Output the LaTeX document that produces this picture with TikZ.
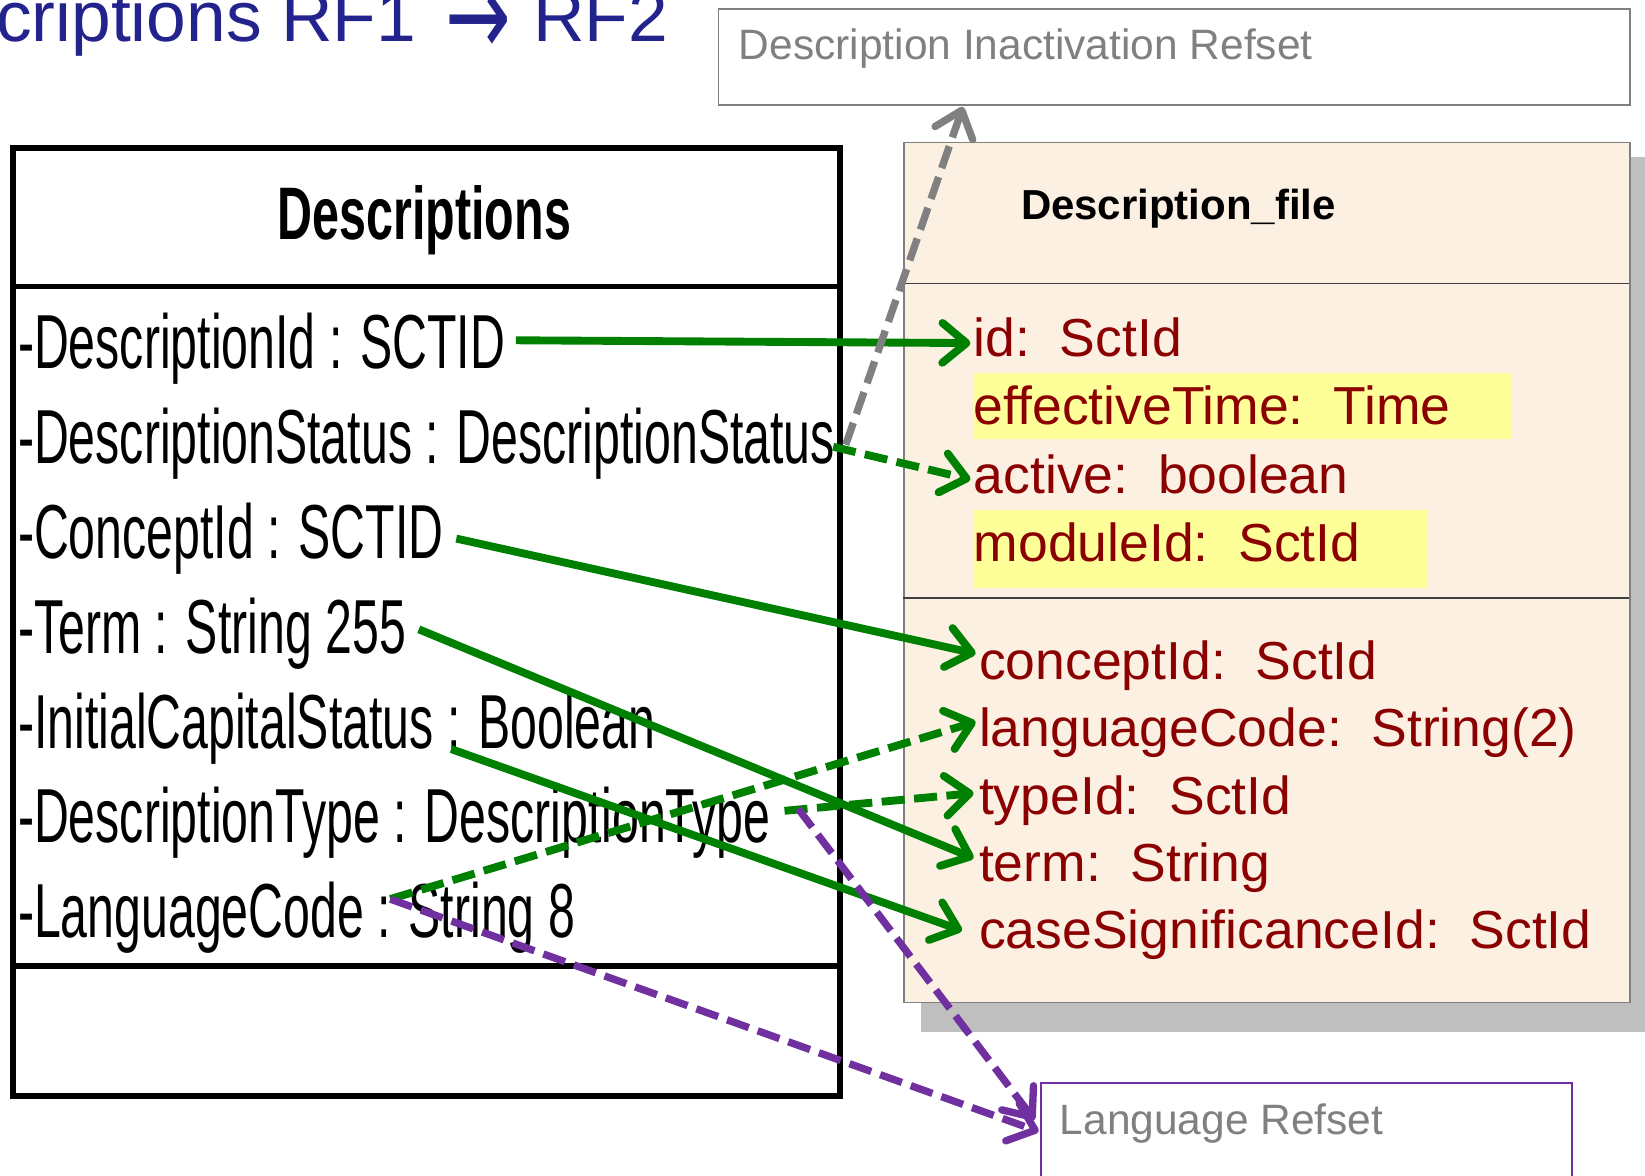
\documentclass[tikz,border=0pt]{standalone}
\usepackage{fontspec}
\setmainfont{Liberation Sans}
\newfontfamily\narrowfont[FakeStretch=0.63]{Liberation Sans}
\newfontfamily\narrowboldfont[FakeStretch=0.65]{Liberation Sans}
\newfontfamily\dejavu{DejaVu Sans}
\usetikzlibrary{arrows.meta}
\definecolor{navy}{RGB}{35,35,142}
\definecolor{umlgreen}{RGB}{0,128,0}
\definecolor{umlgray}{RGB}{128,128,128}
\definecolor{umlpurple}{RGB}{112,48,160}
\definecolor{darkred}{RGB}{139,0,0}
\definecolor{beige}{RGB}{251,240,226}
\definecolor{hl}{RGB}{255,255,153}
\definecolor{shadowgray}{RGB}{191,191,191}
\tikzset{
  attr/.style={font=\narrowfont\fontsize{73}{80}\selectfont, anchor=base west, inner sep=0pt, text height=52.6pt, text depth=15.3pt},
  fattr/.style={font=\fontsize{51}{56}\selectfont, text=darkred, anchor=base west, inner sep=0pt, text height=36.7pt, text depth=10.7pt},
  reftxt/.style={font=\fontsize{40.5}{44}\selectfont, text=umlgray, anchor=base west, inner sep=0pt},
  link/.style={line width=7.5pt, umlgreen, -{Straight Barb[length=23pt,width=38pt,round]}},
  dlink/.style={link, dash pattern=on 22pt off 9pt},
  plink/.style={dlink, umlpurple, line width=7pt},
  glink/.style={dlink, umlgray, line width=7pt},
  classline/.style={line width=5.5pt},
}
\begin{document}
\begin{tikzpicture}[x=1pt,y=-1pt]
\useasboundingbox (0,0) rectangle (1568,1120);

% title
\node[anchor=base east, text=navy, font=\fontsize{68}{74}\selectfont, inner sep=0pt] (title) at (637,40)
  {criptions RF1\hspace{9pt} {\dejavu\raisebox{-13pt}{\scalebox{1.1}[1.6]{→}}}\hspace{2pt} RF2};

% Descriptions class box
\node[draw, classline, minimum width=788pt, minimum height=904pt, anchor=north west, inner sep=0pt] (desc) at (10,138) {};
\draw[classline] (10,273) -- (798,273);
\draw[classline] (10,921) -- (798,921);
\node[anchor=base, font=\narrowboldfont\bfseries\fontsize{71}{78}\selectfont, inner sep=0pt] (dhead) at (404.5,228) {Descriptions};
\node[attr] (r1) at (17,351) {-DescriptionId : SCTID};
\node[attr] (r2) at (17,441.5) {-DescriptionStatus : DescriptionStatus};
\node[attr] (r3) at (17,532) {-ConceptId : SCTID};
\node[attr] (r4) at (17,622.5) {-Term : String 255};
\node[attr] (r5) at (17,713) {-InitialCapitalStatus : Boolean};
\node[attr] (r6) at (17,803.5) {-DescriptionType : DescriptionType};
\node[attr] (r7) at (17,894) {-LanguageCode : String 8};

% Description_file box
\fill[shadowgray] (878,150) rectangle (1570,984);
\node[draw=umlgray, fill=beige, line width=1.5pt, minimum width=692pt, minimum height=820pt, anchor=north west, inner sep=0pt] (file) at (861,135) {};
\draw[line width=1.2pt, black!75] (861,270) -- (1553,270);
\draw[line width=1.2pt, black!75] (861,570) -- (1553,570);
\fill[hl] (927,356) rectangle (1441,418);
\fill[hl] (927,486) rectangle (1361,560);
\node[anchor=base west, font=\bfseries\fontsize{40}{44}\selectfont, inner sep=0pt] (fhead) at (973,209) {Description\_file};
\node[fattr] (fid) at (928,340) {id:~~SctId};
\node[fattr] (ftime) at (928,405) {effectiveTime:~~Time};
\node[fattr] (factive) at (928,470) {active:~~boolean};
\node[fattr] (fmodule) at (928,535) {moduleId:~~SctId};
\node[fattr] (fconcept) at (933,648) {conceptId:~~SctId};
\node[fattr] (flang) at (933,712) {languageCode:~~String(2)};
\node[fattr] (ftype) at (933,776) {typeId:~~SctId};
\node[fattr] (fterm) at (933,840) {term:~~String};
\node[fattr] (fcase) at (933,904) {caseSignificanceId:~~SctId};

% refset boxes
\node[draw=umlgray, line width=1.8pt, minimum width=869pt, minimum height=91pt, anchor=north west, inner sep=0pt] (inact) at (684,8) {};
\node[reftxt] (inacttxt) at (704,57) {Description Inactivation Refset};
\node[draw=umlpurple, line width=2pt, minimum width=506pt, minimum height=100pt, anchor=north west, inner sep=0pt] (lang) at (991,1031) {};
\node[reftxt] (langtxt) at (1010,1081) {Language Refset};

% connectors
\draw[link] ([shift={(10,-8)}]r1.east) -- ([shift={(-3,0)}]fid.west);
\draw[glink] ([shift={(10,1)}]r2.east) -- ([shift={(-201.5,1)}]inact.south);
\draw[dlink] ([shift={(-2,3)}]r2.east) -- ([shift={(-3,0)}]factive.west);
\draw[link] ([shift={(12,0)}]r3.east) -- ([shift={(-3,-12)}]fconcept.west);
\draw[link] ([shift={(12,-4)}]r4.east) -- ([shift={(-5,-9)}]fterm.west);
\draw[link] ([shift={(413,1)}]r5.base west) -- ([shift={(-16,-4)}]fcase.west);
\draw[dlink] ([shift={(355,-37)}]r7.base west) -- ([shift={(-3,-11)}]flang.west);
\draw[dlink] ([shift={(13,-12)}]r6.east) -- ([shift={(-5,-7)}]ftype.west);
\draw[plink] ([shift={(355,-37)}]r7.base west) -- ([shift={(-1,-3.5)}]lang.west);
\draw[plink] ([shift={(26,-14)}]r6.east) -- ([shift={(-5,-14.5)}]lang.west);
\end{tikzpicture}
\end{document}
